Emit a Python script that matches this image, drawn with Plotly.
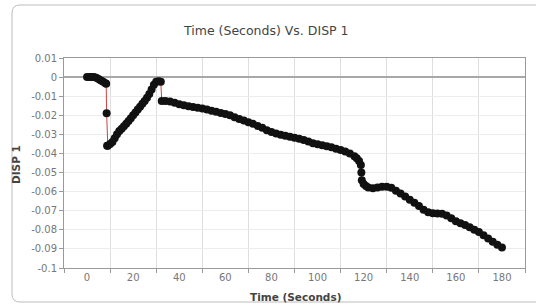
import plotly.graph_objects as go

time_s = [0, 1, 2, 3, 4, 5, 6, 7, 8, 8.3, 8.5, 8.7,
          9, 10, 11, 12, 13, 14, 15, 16, 17, 18, 19, 20, 21, 22, 23, 24, 25, 26, 27, 28, 29, 30, 31, 32,
          32.4, 34, 36, 38, 40, 42, 44, 46, 48, 50, 52, 54, 56, 58, 60, 62, 64, 66, 68, 70, 72, 74, 76, 78,
          80, 82, 84, 86, 88, 90, 92, 94, 96, 98, 100, 102, 104, 106, 108, 110, 112, 114, 116, 117, 118,
          118.8, 119, 119.2, 120, 121, 122, 124, 126, 128, 130, 132, 134, 136, 138, 140, 142, 144, 146, 148,
          150, 152, 154, 156, 158, 160, 162, 164, 166, 168, 170, 172, 174, 176, 178, 180]
disp_1 = [0, 0, 0, 0, -0.0003, -0.001, -0.0018, -0.0025, -0.0032, -0.0035, -0.019, -0.036,
          -0.0360, -0.0350, -0.0340, -0.0320, -0.0300, -0.0283, -0.0270, -0.0258, -0.0245, -0.0230, -0.0215,
          -0.0200, -0.0185, -0.0170, -0.0155, -0.0140, -0.0125, -0.0108, -0.0088, -0.0065, -0.0040, -0.0025,
          -0.0022, -0.0025,
          -0.0125, -0.0125, -0.0128, -0.0135, -0.0142, -0.0148, -0.0153, -0.0157, -0.0160, -0.0164, -0.0170,
          -0.0176, -0.0182, -0.0188, -0.0193, -0.0200, -0.0210, -0.0220, -0.0228, -0.0236, -0.0245, -0.0256,
          -0.0266, -0.0278,
          -0.0288, -0.0296, -0.0302, -0.0307, -0.0313, -0.0318, -0.0323, -0.0330, -0.0338, -0.0346, -0.0352,
          -0.0357, -0.0362, -0.0368, -0.0375, -0.0382, -0.0390, -0.0400, -0.0415, -0.0425, -0.0440,
          -0.0460, -0.0500, -0.0540, -0.0560, -0.0570, -0.0578, -0.0582, -0.0578, -0.0574, -0.0574, -0.0580,
          -0.0595, -0.0610, -0.0625, -0.0642, -0.0658, -0.0675, -0.0695, -0.0708,
          -0.0713, -0.0714, -0.0716, -0.0725, -0.0740, -0.0755, -0.0765, -0.0775, -0.0787, -0.0799, -0.0812,
          -0.0828, -0.0845, -0.0862, -0.0878, -0.0893]

x_labels = [0, 20, 40, 60, 80, 100, 120, 140, 160, 180]
x_grid = [-10, 10, 30, 50, 70, 90, 110, 130, 150, 170, 190]
y_ticks = [0.01, 0, -0.01, -0.02, -0.03, -0.04, -0.05, -0.06, -0.07, -0.08, -0.09, -0.1]
y_labels = ["0.01", "0", "-0.01", "-0.02", "-0.03", "-0.04", "-0.05", "-0.06", "-0.07", "-0.08", "-0.09", "-0.1"]

fig = go.Figure()
fig.add_trace(go.Scatter(
    x=time_s, y=disp_1, mode="lines+markers",
    line=dict(color="#d04040", width=1),
    marker=dict(color="#111111", size=8, line=dict(width=0)),
    showlegend=False,
))

L, R, T, B = 64, 11, 58, 40
W, H = 536, 308
pw, ph = W - L - R, H - T - B

def px(x):
    return (x - L) / pw

def py(y):
    return (H - B - y) / ph

# rounded outer frame
x0, x1, y0, y1 = px(12), px(545), py(5), py(302)
rx, ry = 8 / pw, 8 / ph
path = (f"M {x0+rx},{y0} L {x1},{y0} L {x1},{y1} L {x0+rx},{y1} "
        f"Q {x0},{y1} {x0},{y1+ry} L {x0},{y0-ry} Q {x0},{y0} {x0+rx},{y0} Z")

fig.update_layout(
    width=W, height=H,
    margin=dict(l=L, r=R, t=T, b=B),
    paper_bgcolor="white", plot_bgcolor="white",
    font=dict(family="DejaVu Sans", color="#666666"),
    shapes=[dict(type="path", path=path, xref="paper", yref="paper",
                 line=dict(color="#bdbdbd", width=1), layer="below")],
    annotations=[
        dict(text="Time (Seconds) Vs. DISP 1", x=px(266), y=py(30), xref="paper", yref="paper",
             showarrow=False, font=dict(size=12.5, color="#444444"), xanchor="center", yanchor="middle"),
        dict(text="<b>Time (Seconds)</b>", x=px(295), y=py(297), xref="paper", yref="paper",
             showarrow=False, font=dict(size=10.5, color="#444444"), xanchor="center", yanchor="middle"),
        dict(text="<b>DISP 1</b>", x=px(16), y=py(165), xref="paper", yref="paper", textangle=-90,
             showarrow=False, font=dict(size=10.5, color="#444444"), xanchor="center", yanchor="middle"),
    ],
)

fig.update_xaxes(
    range=[-10, 190], tickmode="array", tickvals=x_labels, ticktext=[str(v) for v in x_labels],
    ticks="", showgrid=False, zeroline=False,
    showline=True, linecolor="#9a9a9a", linewidth=1, mirror=True,
    tickfont=dict(size=10, color="#777777"),
    minor=dict(tickmode="array", tickvals=x_grid, ticks="outside", ticklen=4, tickcolor="#9a9a9a",
               showgrid=True, gridcolor="#dedede", gridwidth=1),
)
fig.update_yaxes(
    range=[-0.1, 0.01], tickmode="array", tickvals=y_ticks, ticktext=y_labels,
    ticks="outside", ticklen=4, tickcolor="#9a9a9a",
    showgrid=True, gridcolor="#ececec", gridwidth=1,
    zeroline=True, zerolinecolor="#a8a8a8", zerolinewidth=1.5,
    showline=True, linecolor="#9a9a9a", linewidth=1, mirror=True,
    tickfont=dict(size=10, color="#777777"),
)

fig.write_html("out.html", config={"displayModeBar": False},
               post_script="document.body.style.margin='0';document.body.style.overflow='hidden';")
